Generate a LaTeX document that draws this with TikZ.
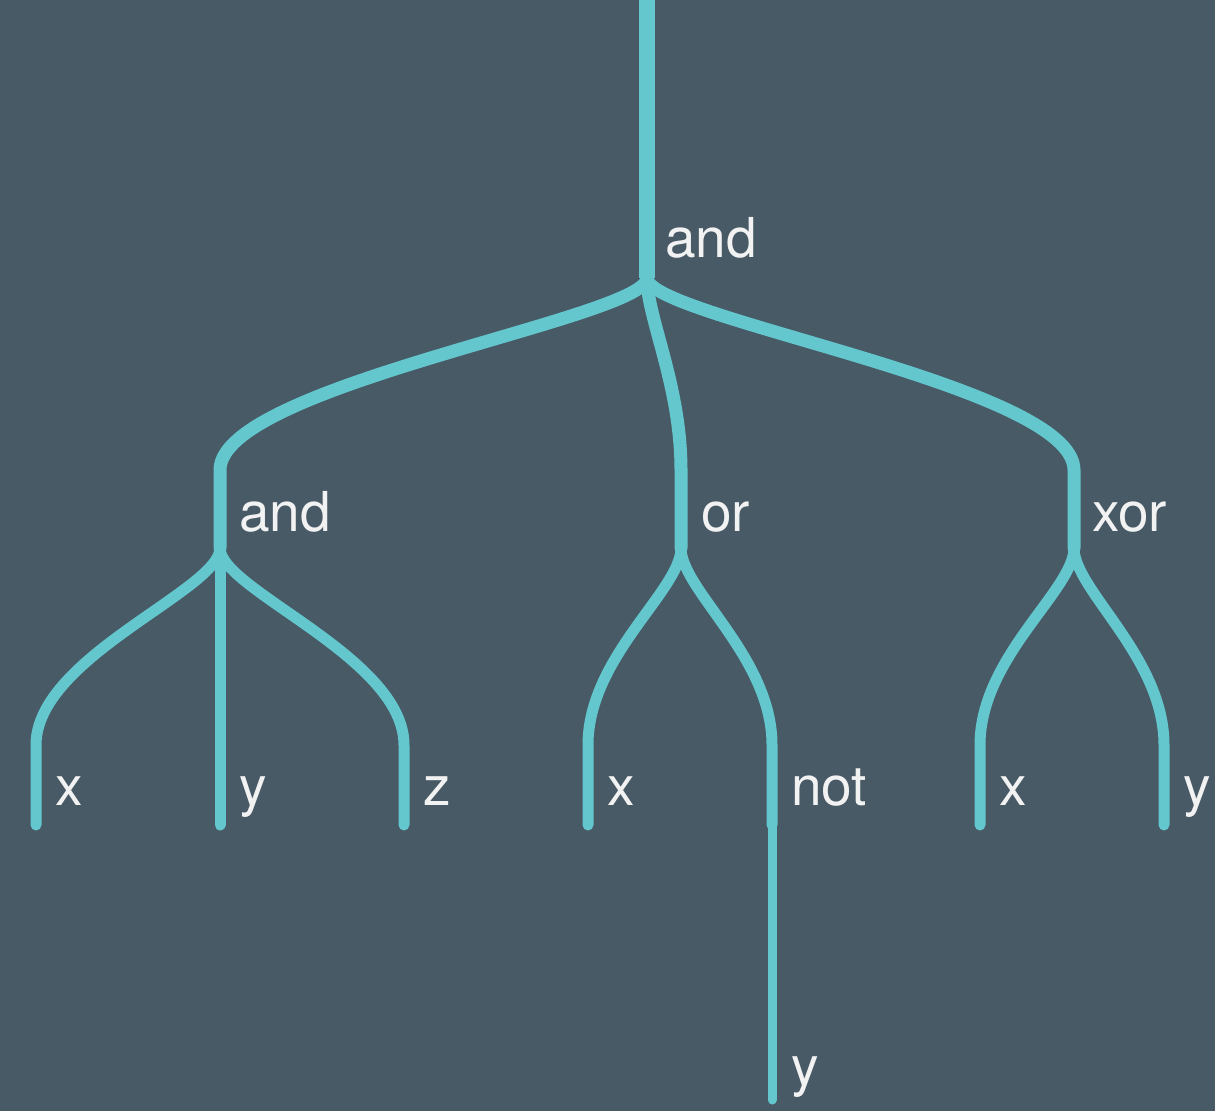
\documentclass[tikz,border=0pt]{standalone}
\usepackage{fontspec}
\setmainfont{TeX Gyre Heros}
\definecolor{bg}{HTML}{475A66}
\definecolor{teal}{HTML}{63C7CD}
\definecolor{txt}{HTML}{F2F2F2}
\begin{document}
\begin{tikzpicture}[x=1pt,y=-1pt,
  link/.style={draw=teal,line cap=round,line join=round},
  w0/.style={line width=16pt},
  w1/.style={line width=13pt},
  w2/.style={line width=11pt},
  w3/.style={line width=9pt},
  upper/.style={to path={.. controls +(0,40) and +(0,-85) .. (\tikztotarget)}},
  lower/.style={to path={.. controls +(0,42) and +(0,-88) .. (\tikztotarget)}},
  lab/.style={anchor=base west,inner sep=0pt,text=txt,font=\fontsize{55}{60}\selectfont}]
\fill[bg] (0,0) rectangle (1215,1111);
\useasboundingbox (0,0) rectangle (1215,1111);
% coordinates
\coordinate (top) at (647,-10);
\coordinate (r) at (647,278);
\coordinate (a1) at (220,470); \coordinate (a2) at (220,548);
\coordinate (o1) at (681,470); \coordinate (o2) at (681,548);
\coordinate (x1) at (1074,470); \coordinate (x2) at (1074,548);
\coordinate (l1a) at (36,745); \coordinate (l1b) at (36,825);
\coordinate (l2b) at (220,825);
\coordinate (l3a) at (404,745); \coordinate (l3b) at (404,825);
\coordinate (l4a) at (588,745); \coordinate (l4b) at (588,825);
\coordinate (l5a) at (772,745); \coordinate (l5b) at (772,825);
\coordinate (l6a) at (980,745); \coordinate (l6b) at (980,825);
\coordinate (l7a) at (1164,745); \coordinate (l7b) at (1164,825);
\coordinate (l8) at (772,1100);
% trunk
\draw[link,w0,line cap=butt] (top) -- (r);
% level 1
\draw[link,w1] (r) to[upper] (a1) -- (a2);
\draw[link,w1] (r) to[upper] (o1) -- (o2);
\draw[link,w1] (r) to[upper] (x1) -- (x2);
% level 2
\draw[link,w2] (a2) to[lower] (l1a) -- (l1b);
\draw[link,w2] (a2) -- (l2b);
\draw[link,w2] (a2) to[lower] (l3a) -- (l3b);
\draw[link,w2] (o2) to[lower] (l4a) -- (l4b);
\draw[link,w2] (o2) to[lower] (l5a) -- (l5b);
\draw[link,w2] (x2) to[lower] (l6a) -- (l6b);
\draw[link,w2] (x2) to[lower] (l7a) -- (l7b);
% level 3
\draw[link,w3] (l5b) -- (l8);
% labels
\node[lab] (t0) at (665,257) {and};
\node[lab] (t1) at (239,531) {and};
\node[lab] (t2) at (701,531) {or};
\node[lab] (t3) at (1092,531) {xor};
\node[lab] (t4) at (55,805) {x};
\node[lab] (t5) at (239,805) {y};
\node[lab] (t6) at (423,805) {z};
\node[lab] (t7) at (607,805) {x};
\node[lab] (t8) at (791,805) {not};
\node[lab] (t9) at (999,805) {x};
\node[lab] (t10) at (1183,805) {y};
\node[lab] (t11) at (791,1085) {y};
\end{tikzpicture}
\end{document}
